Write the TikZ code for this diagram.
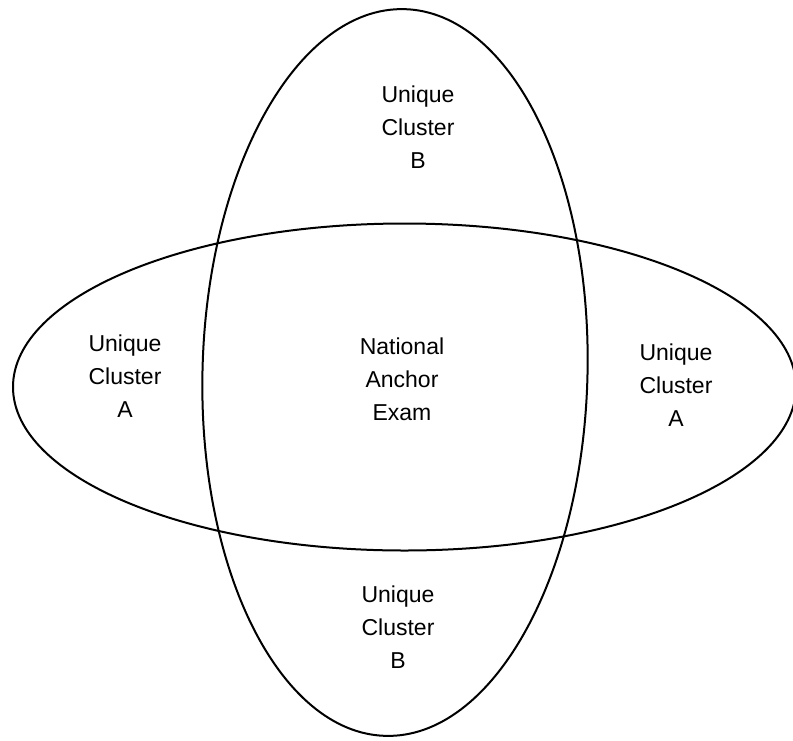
\documentclass[tikz,border=0pt]{standalone}
\usepackage{fontspec}
\setmainfont{Liberation Sans}
\usetikzlibrary{shapes.geometric,positioning}
\tikzstyle{loop} = [ellipse, draw, line width=2pt, inner sep=0pt]
\tikzstyle{label} = [align=center, font=\fontsize{23}{33}\selectfont]

\begin{document}
\begin{tikzpicture}[x=1pt, y=-1pt]
\useasboundingbox (0,0) rectangle (793,740);
% Two overlapping ellipses
\node[loop, minimum width=385pt, minimum height=727pt, rotate=-1.5] (clusterB) at (395,372.5) {};
\node[loop, minimum width=783pt, minimum height=327pt] (clusterA) at (404.5,387) {};

% Region labels
\node[label] (topB) at (418,127) {Unique\\Cluster\\B};
\node[label] (anchor) at (402,379) {National\\Anchor\\Exam};
\node[label] (leftA) at (125,376) {Unique\\Cluster\\A};
\node[label] (rightA) at (676,385) {Unique\\Cluster\\A};
\node[label] (botB) at (398,627) {Unique\\Cluster\\B};
\end{tikzpicture}
\end{document}
